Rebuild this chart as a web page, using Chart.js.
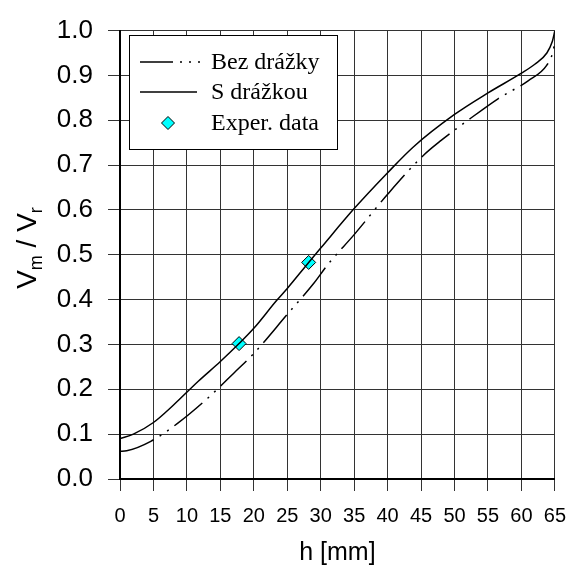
<!DOCTYPE html>
<html>
<head>
<meta charset="utf-8">
<script src="https://cdn.jsdelivr.net/npm/chart.js@4/dist/chart.umd.min.js"></script>
<style>
  html, body { margin: 0; padding: 0; background: #fff; }
  #wrap { width: 579px; height: 571px; position: relative; }
</style>
</head>
<body>
<div id="wrap"><canvas id="c"></canvas></div>
<script>
// S drážkou (plná čára)
const hSolid = [0, 2, 5, 8, 11.7, 15, 17.8, 20, 23.4, 25, 28.2, 30, 35, 40, 43.8, 50, 55, 60, 62, 63.8, 64.6, 65];
const vSolid = [0.090, 0.100, 0.126, 0.165, 0.218, 0.262, 0.302, 0.336, 0.398, 0.425, 0.483, 0.515, 0.603, 0.683, 0.740, 0.813, 0.861, 0.905, 0.925, 0.950, 0.975, 1.0];

// Bez drážky (čerchovaná)
const hDash = [0, 1, 4.6, 8.6, 13.1, 17, 20, 25.1, 29, 31.1, 35, 40, 45.3, 48, 52, 56.5, 61, 63.8, 64.7, 65];
const vDash = [0.062, 0.063, 0.084, 0.124, 0.180, 0.236, 0.280, 0.369, 0.437, 0.479, 0.545, 0.635, 0.721, 0.755, 0.800, 0.848, 0.888, 0.923, 0.952, 0.975];

// experimentální data
const hExp = [17.8, 28.2];
const vExp = [0.302, 0.483];

const xTicks = [0, 5, 10, 15, 20, 25, 30, 35, 40, 45, 50, 55, 60, 65];
const yTicks = [0.0, 0.1, 0.2, 0.3, 0.4, 0.5, 0.6, 0.7, 0.8, 0.9, 1.0];

const toXY = (xs, ys) => xs.map((x, i) => ({ x: x, y: ys[i] }));

const dashPattern = [36, 7, 2, 7, 2, 7];

// legenda v ramečku + popisky os
const decor = {
  id: "decor",
  afterDraw(chart) {
    const ctx = chart.ctx;
    const ds = chart.data.datasets;
    ctx.save();

    // rámeček legendy
    ctx.fillStyle = "#fff";
    ctx.fillRect(129.5, 35.5, 208, 114);
    ctx.strokeStyle = "#000";
    ctx.lineWidth = 1;
    ctx.strokeRect(129.5, 35.5, 208, 114);

    ctx.font = "24px 'Liberation Serif', 'Times New Roman', serif";
    ctx.fillStyle = "#000";
    ctx.textBaseline = "middle";
    ctx.textAlign = "left";

    const rows = [62, 92, 123];
    // čerchovaná
    ctx.lineWidth = 1.5;
    ctx.setLineDash([33, 7, 2, 7, 2, 7]);
    ctx.beginPath(); ctx.moveTo(140, rows[0]); ctx.lineTo(200, rows[0]); ctx.stroke();
    ctx.setLineDash([]);
    ctx.fillText(ds[0].label, 211, rows[0] + 1);
    // plná
    ctx.beginPath(); ctx.moveTo(140, rows[1]); ctx.lineTo(197, rows[1]); ctx.stroke();
    ctx.fillText(ds[1].label, 211, rows[1] + 1);
    // kosočtverec
    ctx.beginPath();
    ctx.moveTo(168, rows[2] - 6.5); ctx.lineTo(174.5, rows[2]);
    ctx.lineTo(168, rows[2] + 6.5); ctx.lineTo(161.5, rows[2]);
    ctx.closePath();
    ctx.fillStyle = "#00ffff"; ctx.fill();
    ctx.lineWidth = 1; ctx.stroke();
    ctx.fillStyle = "#000";
    ctx.fillText(ds[2].label, 211, rows[2] + 1);

    // popisek osy x
    const area = chart.chartArea;
    ctx.font = "25px 'Liberation Sans', Arial, sans-serif";
    ctx.textAlign = "center";
    ctx.fillText("h [mm]", (area.left + area.right) / 2, 553);

    // popisek osy y: V_m / V_r
    ctx.translate(36, 248);
    ctx.rotate(-Math.PI / 2);
    ctx.textBaseline = "alphabetic";
    ctx.textAlign = "left";
    const big = "28px 'Liberation Sans', Arial, sans-serif";
    const small = "18px 'Liberation Sans', Arial, sans-serif";
    const parts = [["V", big, 0], ["m", small, 6], [" / ", big, 0], ["V", big, 0], ["r", small, 6]];
    let w = 0;
    for (const p of parts) { ctx.font = p[1]; w += ctx.measureText(p[0]).width; }
    let x = -w / 2;
    for (const p of parts) {
      ctx.font = p[1];
      ctx.fillText(p[0], x, p[2]);
      x += ctx.measureText(p[0]).width;
    }
    ctx.restore();
  }
};

new Chart(document.getElementById("c").getContext("2d"), {
  type: "scatter",
  data: {
    datasets: [
      {
        label: "Bez drážky",
        data: toXY(hDash, vDash),
        showLine: true,
        borderColor: "#000",
        borderWidth: 1.5,
        borderDash: dashPattern,
        cubicInterpolationMode: "monotone",
        pointRadius: 0,
        fill: false
      },
      {
        label: "S drážkou",
        data: toXY(hSolid, vSolid),
        showLine: true,
        borderColor: "#000",
        borderWidth: 1.5,
        cubicInterpolationMode: "monotone",
        pointRadius: 0,
        fill: false
      },
      {
        label: "Exper. data",
        data: toXY(hExp, vExp),
        showLine: false,
        pointStyle: "rectRot",
        pointRadius: 7,
        backgroundColor: "#00ffff",
        borderColor: "#000",
        borderWidth: 1
      }
    ]
  },
  options: {
    responsive: true,
    maintainAspectRatio: false,
    animation: false,
    layout: { padding: { top: 25, right: 14, left: 0, bottom: 0 } },
    plugins: {
      legend: { display: false },
      tooltip: { enabled: false },
      title: { display: false }
    },
    scales: {
      x: {
        type: "linear",
        min: 0,
        max: 65,
        afterBuildTicks: (s) => { s.ticks = xTicks.map(v => ({ value: v })); },
        afterFit: (s) => { s.height = 92; },
        grid: { color: "#333", lineWidth: 1, tickLength: 12, tickColor: "#333" },
        border: { color: "#000", width: 2 },
        ticks: {
          color: "#000",
          font: { family: "'Liberation Sans', Arial, sans-serif", size: 20 },
          padding: 13,
          maxRotation: 0,
          autoSkip: false
        }
      },
      y: {
        type: "linear",
        min: 0,
        max: 1,
        afterBuildTicks: (s) => { s.ticks = yTicks.map(v => ({ value: v })); },
        afterFit: (s) => { s.width = 120; },
        grid: { color: "#333", lineWidth: 1, tickLength: 12, tickColor: "#333" },
        border: { color: "#000", width: 2 },
        ticks: {
          color: "#000",
          font: { family: "'Liberation Sans', Arial, sans-serif", size: 26 },
          padding: 15,
          autoSkip: false,
          callback: (v) => Number(v).toFixed(1)
        }
      }
    }
  },
  plugins: [decor]
});
</script>
</body>
</html>
